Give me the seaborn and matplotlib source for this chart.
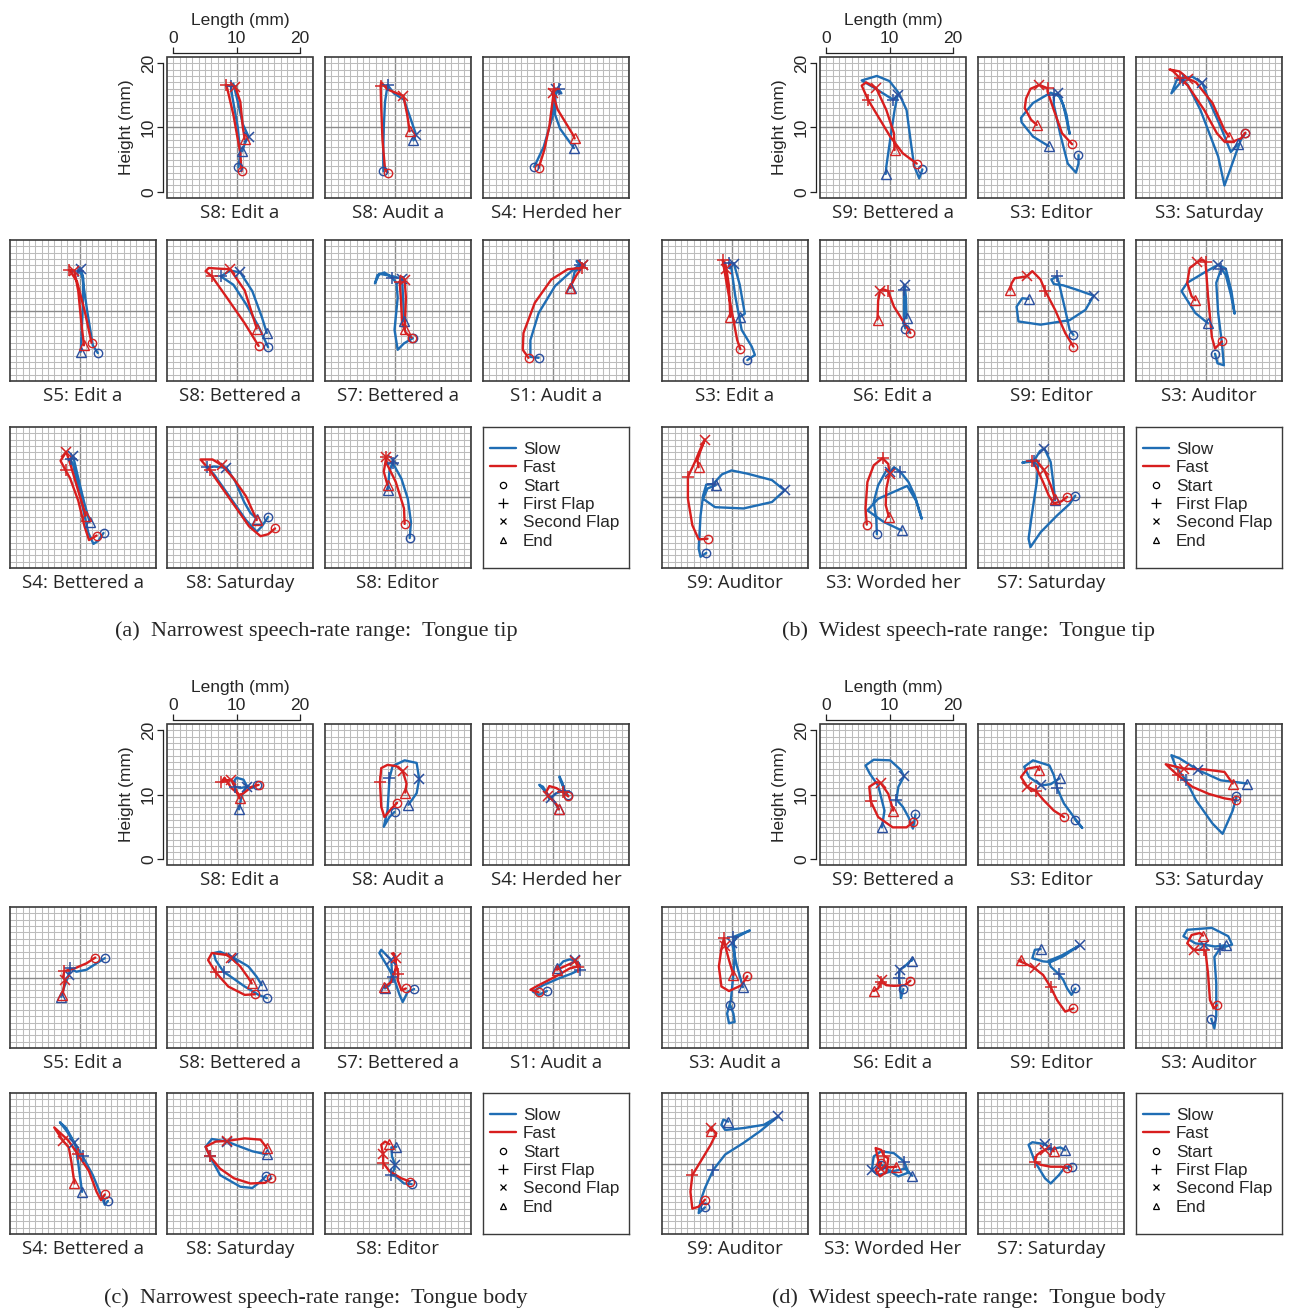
import matplotlib
matplotlib.use("Agg")
import matplotlib.pyplot as plt
import seaborn as sns
import pandas as pd
from matplotlib.lines import Line2D
from matplotlib.patches import Rectangle

# ---- panel (a) narrowest range, tongue tip ----
A_TITLES = ["S8: Edit a", "S8: Audit a", "S4: Herded her", "S5: Edit a", "S8: Bettered a",
            "S7: Bettered a", "S1: Audit a", "S4: Bettered a", "S8: Saturday", "S8: Editor"]
A_SLOW = [
    [(10.3,3.8),(10.6,6),(10.2,10),(9.3,15),(9.1,16.5),(9.5,16.8),(10.2,14),(11,10.5),(11.9,8.6),(11.3,7.5),(10.9,6.3)],
    [(8.25,3.2),(8.2,6),(8.3,10),(8.5,14),(8.9,16.6),(9.9,15.3),(11.5,14.3),(12.5,11.5),(13.4,8.9),(13.0,8.0)],
    [(7.1,3.9),(8.6,7.0),(10.0,11.7),(10.3,14.8),(11.0,15.9),(11.4,15.3),(10.5,15.9),(10.4,12.0),(11.2,9.8),(13.4,6.8)],
    [(12.9,3.4),(12.1,4.6),(11.2,10),(10.4,15.5),(9.8,16.2),(10.2,16.5),(10.6,15),(10.5,10),(10.2,3.6)],
    [(15.0,4.3),(13.5,7.5),(11.5,11),(9.5,14),(7.5,15.3),(9,16.2),(10.6,15.9),(12.5,13),(14,9),(14.8,6.5)],
    [(12.9,5.7),(11.5,4.9),(10.5,3.9),(10.0,7.0),(10.5,12),(10.3,14.3),(9.6,15.1),(8.4,15.9),(7.3,15.5),(6.9,14.2),
     (7.6,15.7),(9.8,15.3),(11.2,14.9),(11.4,11),(11.5,8.3)],
    [(7.8,2.66),(6.5,2.8),(6.5,5.4),(7.8,9.6),(10.4,13.8),(13,16.1),(14.3,17.1),(13.8,17.7),(14.9,17.1),(13.5,16.0),(12.9,13.5)],
    [(13.8,4.5),(13.0,3.3),(12.2,2.8),(11.4,4.5),(10.5,8.5),(9.6,12.5),(9.0,15.0),(8.6,15.9),(9.0,16.4),(9.8,13),(10.8,9),(11.6,6.2)],
    [(15.0,7.0),(14,5.5),(13.2,4.7),(11.5,6.5),(9,10),(6.5,13.5),(5.4,14.7),(6.5,14.8),(8.4,14.6),(9.8,12.5),(11.2,9.3),(12.2,7.6),(13.2,6.7)],
    [(12.4,3.7),(12.6,6.2),(12.1,9.8),(11.1,12.9),(9.7,15.4),(9.8,15.8),(9.2,14.0),(8.9,11.1)],
]
A_FAST = [
    [(10.8,3.2),(10.6,6),(9.5,12),(8.4,16.6),(9.8,16.3),(10.6,14),(11,10),(11.3,8.2)],
    [(8.9,3.0),(8.5,3.5),(8.1,8),(7.9,13),(7.8,16.5),(7.9,17),(8.9,15.9),(11.4,14.9),(12.0,12),(12.4,9.4)],
    [(7.8,3.7),(8.7,6.5),(9.5,10.2),(10.2,15.6),(10.3,16.0),(10.0,15.4),(10.8,12.8),(13.1,9.1),(13.5,8.3)],
    [(11.9,5.0),(10.8,10),(9.6,14.5),(8.4,16.3),(9.2,16.1),(9.8,13),(10.3,8),(10.7,4.6)],
    [(13.5,4.5),(11.3,8.0),(8.4,12.1),(6.1,15.3),(5.1,16.1),(5.6,16.6),(7.1,16.5),(9.0,16.4),(11.3,13.1),(13.2,7.2)],
    [(12.7,5.8),(11.8,6.5),(11.2,8),(11.0,12),(10.8,14.5),(11.3,15.2),(11.6,14.8),(11.8,12),(11.7,9),(11.6,7.2)],
    [(6.2,2.66),(5.3,3.9),(5.4,6.5),(7.2,11.2),(9.8,14.8),(12.4,16.4),(14.6,16.6),(14.9,17.0),(13.8,15.5),(12.7,13.5)],
    [(12.7,4.1),(11.5,3.4),(10.8,5.5),(9.8,9.5),(8.5,13),(7.8,14.2),(7.0,15.7),(7.9,17.1),(8.6,15),(9.8,11),(11.0,7.2)],
    [(16.1,5.2),(15.0,4.3),(13.8,4.0),(12.0,5.5),(9.5,9),(7.0,12.5),(5.8,14.2),(4.3,15.9),(6.2,15.9),(7.7,15.0),(9.5,13),(11.5,10.2),(13.2,6.5)],
    [(11.6,5.9),(11.5,8.3),(10.2,12.4),(8.9,15.0),(8.6,16.3),(8.7,16.3),(8.3,14),(8.9,11.9)],
]
A_SLOW_FLAPS = [(4,8),(4,8),(4,6),(4,5),(4,6),(6,12),(6,8),(7,8),(6,8),(4,5)]
A_FAST_FLAPS = [(3,4),(4,7),(4,5),(3,4),(3,7),(4,6),(6,7),(5,7),(6,9),(4,5)]

# ---- panel (b) widest range, tongue tip ----
B_TITLES = ["S9: Bettered a", "S3: Editor", "S3: Saturday", "S3: Edit a", "S6: Edit a",
            "S9: Editor", "S3: Auditor", "S9: Auditor", "S3: Worded her", "S7: Saturday"]
B_SLOW = [
    [(15.2,3.5),(14.7,2.1),(13.9,4),(13.4,7.5),(12.7,12.7),(11.5,15.3),(10,17.2),(8,18),(5.6,17.3),(7.5,16.2),
     (10.6,14.3),(11.3,15.1),(10.8,12.7),(10.1,8.1),(9.5,4.0),(9.4,2.8)],
    [(14.9,5.7),(14.9,4.4),(14.5,3.0),(13.2,4.4),(12.0,9),(11.0,13.5),(11,15.1),(11.6,15.3),(12.5,13.5),(13.5,9),
     (13.0,12),(12,14.8),(10.5,15.4),(7.7,13.8),(5.8,11.5),(5.9,10.8),(7.7,8.6),(10.2,7.1)],
    [(16.3,9.1),(15.6,8.1),(15,6.5),(13,1.0),(12,5.5),(9.2,12.7),(7.2,16.6),(6.4,17.4),(4.6,15.3),(5.5,17.5),
     (7.9,17.9),(9.5,16.9),(10.5,14.3),(12.4,10.1),(14.0,6.2),(15.1,7.4)],
    [(12.5,2.3),(13.7,3.1),(13.2,4.4),(11.6,7.0),(10.6,12.2),(10,16.4),(9.6,17.4),(10.4,17.2),(11.3,14),(12.1,9.5),(11.3,9.0)],
    [(12.5,7.2),(12.3,8),(12.3,13.2),(12.4,13.9),(12.6,12),(12.7,8.8)],
    [(14.1,6.2),(13.5,7),(12.8,10.1),(11.8,14.3),(11.5,15.3),(10.6,14.8),(11,14.1),(12.5,13.9),(14.7,13.2),(17.3,12.3),
     (16,10.1),(13.5,8.5),(8.9,7.8),(5.4,8.3),(5.1,10.6),(6.0,11.9),(7.0,11.8)],
    [(11.5,3.3),(11.9,1.8),(12.9,1.5),(12.6,4.9),(12.0,9.6),(11.7,14.3),(12.5,16.5),(13.2,15.5),(14.0,12.5),(14.6,9.5),
     (14.1,13),(13.2,16.5),(12.0,17.1),(10,16),(7.1,14.3),(6.2,13.0),(8.4,9.6),(10.4,8.0)],
    [(6.0,1.4),(5.1,0.8),(4.8,2.1),(5.1,7.2),(5.5,10.3),(6.0,12.0),(7.1,12.1),(8.5,13.6),(10,14.2),(12.5,13.7),
     (16.4,12.7),(18.4,11.1),(16.4,9.3),(11.9,8.3),(7.4,8.5),(5.5,9.8),(6.2,11.4),(7.5,11.9)],
    [(8.0,4.3),(7.9,6.7),(7.5,9.3),(8.2,11.9),(9.5,14.2),(10.1,14.0),(10.7,14.7),(11.7,14.0),(13.0,12.4),(14,10.3),
     (15.1,6.7),(14.2,9.5),(12.8,11.8),(10.5,10.8),(8.2,9.8),(6.5,8.0),(9.1,6.2),(11.9,4.9)],
    [(14.4,10.3),(13.5,9.0),(11.5,7.2),(8.9,4.6),(7.3,2.3),(7.0,3.6),(7.5,7.2),(8.3,12.4),(8.5,15.0),(7.5,15.8),
     (6.0,15.4),(7.8,15.6),(8.8,17.2),(9.5,17.6),(10.5,15.5),(10.9,12.4),(11.2,9.6)],
]
B_FAST = [
    [(14.3,4.4),(12.1,6.0),(10.1,8.6),(8.2,11.7),(6.6,14.3),(5.6,16.5),(6.3,17.0),(7.9,16.1),(9.5,12.7),(10.7,9.1),(10.8,6.5)],
    [(13.9,7.4),(12.3,9.1),(11,12.7),(10.0,15.6),(10.0,16.1),(8.7,16.6),(7.3,16),(6.6,14.5),(6.4,13.0),(7.4,11.2),(8.3,10.4)],
    [(16.3,9.2),(15.6,8.3),(14.3,7.8),(13,7.8),(11.8,9.1),(9.8,12.7),(7.2,16.5),(5.9,17.7),(4.8,18.8),(4.3,19.0),
     (5.9,18.7),(7.2,17.6),(8.5,17.0),(11.1,13.8),(13,9.6),(13.7,8.6)],
    [(11.4,4.0),(10.9,5.4),(10.3,8.5),(9.3,13.8),(8.6,17.8),(9.0,17.3),(9.2,16.4),(9.6,13.8),(9.8,9.0)],
    [(13.3,6.5),(12.7,7.5),(10.7,10.6),(9.8,13.0),(9.0,13.3),(8.5,13.1),(8.2,11.5),(8.1,8.6)],
    [(14.1,4.4),(12.8,6.5),(11.2,10.1),(9.6,13.1),(8.9,14.8),(7.6,16.1),(6.7,15.3),(4.8,15.0),(4.3,14.2),(4.1,13.2)],
    [(12.6,5.2),(11.5,4.1),(11,5.9),(10.4,12.2),(10.0,17.5),(9.5,17.9),(8.7,17.5),(7.5,16.6),(7.1,14.3),(7.8,12.2),(8.4,11.6)],
    [(6.2,3.6),(4.8,3.5),(3.8,5.7),(3.1,9.8),(3.1,13.2),(4.2,15.5),(5.1,17.6),(5.8,19.0),(5.0,17.0),(4.6,15.8),(4.8,14.7)],
    [(6.4,5.8),(6.2,8.3),(6.5,12.4),(7.5,15.0),(8.9,16.1),(9.8,15.2),(10.0,13.7),(9.5,11.4),(9.4,8.8),(9.9,7.0)],
    [(13.1,10.1),(12.2,9.4),(11.0,9.1),(10.2,10.3),(9.3,12.4),(8.3,14.5),(7.6,15.6),(8.2,15.8),(9.5,14.2),(10.5,11.9),(11.2,9.8)],
]
B_SLOW_FLAPS = [(10,11),(6,7),(7,11),(6,7),(2,3),(4,9),(6,12),(6,11),(7,5),(11,13)]
B_FAST_FLAPS = [(4,7),(4,5),(7,11),(4,6),(3,5),(3,6),(4,6),(4,7),(4,6),(6,8)]

# ---- panel (c) narrowest range, tongue body ----
C_TITLES = list(A_TITLES)
C_SLOW = [
    [(13.2,11.5),(12.4,11.0),(11.6,11.4),(11.1,12.3),(10.0,12.6),(9.4,11.8),(9.8,11.2),(10.6,11.0),(11.6,11.2),(10.8,9.8),(10.4,7.7)],
    [(10.0,7.3),(9.2,6.5),(8.3,5.0),(8.9,7.6),(9.2,12.5),(9.7,14.4),(11.6,15.3),(13.5,14.9),(13.9,12.4),(13.5,10.2),(12.2,8.4)],
    [(12.4,9.9),(11.9,10.7),(11.2,12.3),(11.1,12.8),(11.6,11.7),(11.8,10.6),(10.6,10.2),(9.5,9.3),(8.5,11.2),(7.9,11.5),
     (9.0,10.3),(9.8,9.4),(10.5,8.5),(11.0,7.7)],
    [(14.0,13.0),(12.7,12.2),(11.1,11.2),(9.5,10.9),(8.5,11.4),(8.3,10.4),(7.6,8.6),(7.1,7.0)],
    [(14.8,6.8),(13.5,7.3),(11.3,8.6),(8.7,10.4),(8.0,10.8),(6.7,12.7),(6.4,13.8),(7.4,14.0),(9.5,13.1),(11.9,11.7),(13.2,10.1),(14.0,8.8)],
    [(13.1,8.2),(12.1,7.8),(11.3,6.2),(10.8,7.3),(10.0,9.6),(9.8,10.1),(8.9,11.7),(7.6,13.8),(7.9,14.3),(9.2,13.0),
     (9.5,12.7),(9.6,10.5),(9.2,8.8),(8.5,8.3)],
    [(9.1,7.9),(7.8,7.3),(6.9,7.8),(8.5,8.8),(11.1,9.9),(13.0,10.6),(14.3,11.2),(14.2,12.2),(13.6,12.7),(12.7,12.8),(11.7,12.5),(10.7,11.4)],
    [(14.5,4.2),(14,3.6),(13.4,5.1),(12.1,8.2),(10.5,11.1),(9.2,13.2),(7.9,15.5),(6.9,16.4),(8.0,15.0),(9.3,13),(9.8,10),(10.4,5.6)],
    [(14.7,8.1),(13.8,7.2),(12.5,6.2),(10.6,6.4),(7.4,8.2),(5.8,11.1),(5.1,12.6),(6.1,13.8),(8.5,13.4),(10.6,12.6),(12.5,11.9),(14.8,11.4)],
    [(12.7,6.8),(11.5,6.9),(10.2,8.0),(9.5,8.2),(9.9,9.0),(10.1,9.8),(9.6,11.1),(9.5,12.5),(10.3,12.6)],
]
C_FAST = [
    [(13.5,11.5),(12.4,11.2),(11.1,10.2),(10.5,9.9),(9.2,11),(8.1,12.6),(7.6,11.9),(8.5,12.2),(9.2,12.3),(10,10.5),(10.5,9.4)],
    [(10.4,8.7),(9.5,7.8),(8.4,6.5),(7.9,8.1),(7.7,11.9),(7.9,14.1),(8.9,14.6),(10.3,14.4),(11.3,13.6),(11.9,11.7),(11.7,10.3)],
    [(12.5,9.7),(11.6,10.4),(10.6,11.0),(9.5,11.3),(9.0,10.4),(9.3,9.8),(10.1,9.1),(10.6,8.5),(11.0,7.7)],
    [(12.5,13.1),(11.1,12.2),(9.2,11.4),(7.6,11.0),(7.4,10.1),(7.7,9.6),(7.3,7.3)],
    [(12.9,7.4),(11.3,7.3),(8.7,8.6),(6.7,10.8),(5.5,12.7),(6.1,13.8),(8.4,13.5),(9.2,13.0),(10.6,11.7),(11.9,9.9),(12.4,9.1)],
    [(11.8,8.3),(11.1,8.0),(10.5,9.6),(10.6,10.6),(10.2,12.2),(9.8,13.8),(10.2,13.0),(10.2,11.5),(9.5,9.3),(8.4,8.5)],
    [(7.8,7.7),(6.5,8.1),(7.8,8.8),(10.4,10.1),(12.7,11.4),(14.0,11.7),(13.6,12.5),(12.5,12),(10.7,11.2)],
    [(14.0,5.2),(13.4,4.3),(12.7,5.6),(11.5,8.8),(9.7,11.5),(8.2,13.6),(6.0,15.6),(7.4,13.5),(8.3,12.5),(8.7,10.3),(9.2,6.9)],
    [(15.5,7.7),(14.5,7.0),(12.2,6.9),(9.6,7.7),(7.4,9.2),(5.8,11.1),(5.1,12.6),(6.7,13.4),(8.5,13.5),(11.3,13.9),(13.8,13.7),(14.8,12.4)],
    [(12.4,7.2),(11.1,7.7),(9.2,8.8),(8.2,10.1),(8.2,11.4),(7.9,12.9),(8.5,13.4),(9.2,13.0)],
]
C_SLOW_FLAPS = [(6,8),(4,8),(5,11),(4,5),(4,8),(5,10),(6,8),(4,5),(5,8),(3,5)]
C_FAST_FLAPS = [(6,8),(4,8),(1,5),(3,5),(3,7),(3,6),(5,6),(4,7),(5,8),(3,4)]

# ---- panel (d) widest range, tongue body ----
D_TITLES = ["S9: Bettered a", "S3: Editor", "S3: Saturday", "S3: Audit a", "S6: Edit a",
            "S9: Editor", "S3: Auditor", "S9: Auditor", "S3: Worded Her", "S7: Saturday"]
D_SLOW = [
    [(14.1,6.9),(13.9,5.7),(13.7,4.7),(13.0,6.5),(12.1,8.1),(11.1,9.2),(11.4,11.2),(12.3,12.8),(11.8,13.8),(10.1,15.3),
     (7.5,15.4),(6.2,14.5),(6.9,13.2),(8.2,11.4),(9.2,7.5),(8.8,4.9)],
    [(14.4,6.1),(15.5,4.8),(14.4,6.2),(12.6,8.6),(11.5,11.0),(11.0,13),(10.3,14.5),(7.7,15.3),(6.3,14.3),(7.1,12.7),
     (9.0,11.4),(10.5,11.6),(11.9,12.5)],
    [(14.9,9.7),(14.3,7.5),(12.7,3.9),(11.1,5.5),(8.5,9.1),(6.9,12.2),(5.3,14.3),(4.6,16.1),(5.9,15.6),(8.8,13.8),
     (12.4,12.2),(15.0,11.9),(16.6,11.7)],
    [(9.8,5.7),(10.3,4.4),(10.5,3.1),(9.6,2.9),(9.3,4.4),(9.9,6.5),(10.3,10.6),(10.5,13.5),(10.3,16.3),(12.9,17.3),
     (10.9,16.3),(10.1,15.3),(10.8,12),(11.8,8.5)],
    [(12.2,8.2),(11.8,6.8),(11.7,8.5),(11.5,9.9),(11.6,11.2),(12.4,11.7),(13.7,13.0),(13.5,12.6)],
    [(14.4,8.3),(13.8,7.3),(13.1,8.3),(12.5,9.6),(11.8,10.5),(10.5,11.7),(10.2,12.6),(12.2,13.4),(15.1,15.0),(12.5,13.3),
     (10.5,12.4),(9.3,12.5),(7.6,13.0),(8.0,14.3),(8.9,14.4)],
    [(10.9,3.6),(11.4,2.1),(11.7,4.1),(11.7,9.1),(11.4,13.2),(12.3,14.5),(14.2,15.1),(13.6,16.4),(11.0,17.7),(7.1,17.4),
     (6.5,16.4),(8.4,15.3),(9.8,15.1),(11.5,14.8),(13.2,15.0)],
    [(5.8,3.2),(4.8,2.3),(5.1,4.2),(5.8,6.2),(7.1,9.0),(9.0,11.4),(11.9,13.2),(14.5,15.0),(17.4,17.3),(15.1,16.0),
     (11.9,15.5),(9.0,15.2),(8.4,16.0),(8.7,16.8),(9.5,16.5)],
    [(8.7,9.8),(9.8,9.0),(11.4,8.0),(13.0,8.6),(12.3,10.3),(10.7,11.6),(8.7,11.9),(7.5,11.1),(7.2,9.0),(8.2,8.2),
     (10,8.7),(12.5,9.2),(13.6,8.1)],
    [(13.8,9.5),(12.8,9.5),(11.8,8.2),(10.5,6.9),(9.6,7.7),(8.0,10.3),(7.0,12.9),(7.6,13.3),(9.6,13.0),(10.5,12.2),
     (12.0,12.5),(12.8,12.1)],
]
D_FAST = [
    [(13.7,5.7),(12.7,4.9),(10.5,4.9),(8.2,6.5),(7.0,9.0),(6.8,11.2),(7.9,11.9),(8.6,11.8),(9.8,10.1),(10.6,7.5)],
    [(12.6,6.5),(11.0,7.5),(9.4,9.1),(8.1,10.6),(6.8,11.2),(5.8,12.7),(6.8,14.0),(8.4,14.3),(8.7,13.8)],
    [(14.9,9.1),(13.0,9.4),(10.5,10.1),(7.9,11.2),(5.6,13.0),(3.7,14.7),(6.6,14.0),(9.8,13.9),(13.0,13.5),(14.3,11.7)],
    [(12.5,10.2),(11.6,8.8),(9.6,7.9),(8.4,8.6),(8.0,11.7),(8.4,14.5),(8.8,16.1),(9.0,14.9),(9.6,12.7),(10.3,10.4)],
    [(13.3,9.5),(12.4,8.8),(10.7,8.7),(9.5,8.8),(8.7,9.3),(8.8,9.6),(8.2,8.3),(7.5,7.9)],
    [(14.1,5.2),(12.8,4.7),(11.5,6.5),(10.5,8.5),(9.3,10.4),(8.0,11.4),(6.4,12.2),(5.4,12.6),(5.8,12.7)],
    [(11.8,5.7),(11.3,5.2),(10.7,6.5),(10.4,10.6),(10.0,14.0),(9.7,14.3),(8.1,14.3),(7.1,15.3),(7.8,16.6),(9.1,16.9),(9.6,16.5)],
    [(5.8,4.4),(4.8,3.3),(3.8,3.0),(3.5,5.6),(3.8,8.2),(5.1,10.3),(6.7,12.9),(7.6,14.7),(6.7,15.5),(6.8,15.1)],
    [(8.7,10.1),(7.8,9.0),(8.5,8.0),(9.5,8.7),(9.8,10.8),(9.1,11.2),(8.7,12.1),(7.8,12.4),(8.2,10.6),(8.6,9.2),(9.6,9.4),(11.1,9.5)],
    [(13.1,9.3),(12.2,9.5),(10.5,9.5),(8.9,9.8),(8.0,10.3),(8.3,11.3),(9.1,11.9),(9.6,12.1),(10.5,12.4),(11.0,11.9)],
]
D_SLOW_FLAPS = [(5,7),(4,10),(5,9),(8,11),(3,4),(4,8),(5,12),(4,8),(4,8),(9,8)]
D_FAST_FLAPS = [(4,7),(3,4),(4,6),(6,7),(4,5),(3,5),(5,6),(4,8),(5,9),(4,7)]

CAPTIONS = ["(a)  Narrowest speech-rate range:  Tongue tip",
            "(b)  Widest speech-rate range:  Tongue tip",
            "(c)  Narrowest speech-rate range:  Tongue body",
            "(d)  Widest speech-rate range:  Tongue body"]
LEGEND_LABELS = ["Slow", "Fast", "Start", "First Flap", "Second Flap", "End"]

# ---- layout (pixels) ----
FIG_W, FIG_H = 1289, 1311
BOX_W, BOX_H = 146, 141
LEFT_COLS = [10, 167, 325, 483]
RIGHT_COLS = [662, 820, 978, 1136]
TOP_ROWS = [57, 240, 427]
BOTTOM_ROWS = [724, 907, 1093]
CELLS = [(0, 1), (0, 2), (0, 3), (1, 0), (1, 1), (1, 2), (1, 3), (2, 0), (2, 1), (2, 2)]
CAPTION_POS = [(316, 631), (968, 631), (316, 1298), (969, 1298)]

SLOW_C = "#1f6db4"
FAST_C = "#d81e1e"
SLOW_MK = "#2b4f9e"
FAST_MK = "#d42424"
XLIM = (-1.0, 22.1)
YLIM = (-0.94, 20.94)

sns.set_theme(style="white")
plt.rcParams["font.family"] = ["Liberation Sans", "DejaVu Sans"]

fig = plt.figure(figsize=(FIG_W / 100, FIG_H / 100), dpi=100)


def px_axes(left, top, w=BOX_W, h=BOX_H):
    return fig.add_axes([left / FIG_W, 1 - (top + h) / FIG_H, w / FIG_W, h / FIG_H])


def draw_grid(ax):
    ax.set_xlim(*XLIM)
    ax.set_ylim(*YLIM)
    for v in range(0, 23):
        ax.axvline(v, color="#8a8a8a" if v == 10 else "#bcbcbc", lw=1.0 if v == 10 else 0.75, zorder=0)
    for v in range(0, 21):
        ax.axhline(v, color="#8a8a8a" if v == 10 else "#bcbcbc", lw=1.0 if v == 10 else 0.75, zorder=0)


def draw_track(ax, path, line_c):
    df = pd.DataFrame(path, columns=["x", "y"])
    sns.lineplot(data=df, x="x", y="y", sort=False, estimator=None, color=line_c, lw=1.7, ax=ax, zorder=3)


def draw_marks(ax, path, flaps, mk_c):
    start, end = path[0], path[-1]
    p1, p2 = path[flaps[0]], path[flaps[1]]
    ax.plot(*start, marker="o", ms=6, mfc="none", mec=mk_c, mew=1.0, zorder=5)
    ax.plot(*p1, marker="+", ms=9, mec=mk_c, mew=1.1, zorder=5)
    ax.plot(*p2, marker="x", ms=7, mec=mk_c, mew=1.1, zorder=5)
    ax.plot(*end, marker="^", ms=7, mfc="none", mec=mk_c, mew=1.0, zorder=5)


def draw_cell(left, top, title, slow, fast, sfl, ffl, with_axes=False):
    ax = px_axes(left, top)
    draw_grid(ax)
    draw_track(ax, slow, SLOW_C)
    draw_track(ax, fast, FAST_C)
    draw_marks(ax, slow, sfl, SLOW_MK)
    draw_marks(ax, fast, ffl, FAST_MK)
    ax.set_xlabel("")
    ax.set_ylabel("")
    if with_axes:
        for s in ("bottom", "right"):
            ax.spines[s].set_visible(False)
        for s in ("top", "left"):
            ax.spines[s].set_position(("outward", 3))
            ax.spines[s].set_bounds(0, 20)
            ax.spines[s].set_color("#222222")
            ax.spines[s].set_linewidth(0.9)
        ax.add_patch(Rectangle((0, 0), 1, 1, transform=ax.transAxes, fill=False,
                               ec="#3a3a3a", lw=1.2, clip_on=False, zorder=6))
        ax.xaxis.tick_top()
        ax.xaxis.set_label_position("top")
        ax.set_xticks([0, 10, 20])
        ax.set_yticks([0, 10, 20])
        ax.tick_params(axis="both", direction="out", length=4, width=0.9, color="#222222",
                       labelsize=12.5, pad=1, top=True, left=True, bottom=False, right=False)
        for t in ax.get_yticklabels():
            t.set_rotation(90)
            t.set_va("center")
        ax.set_xlabel("Length (mm)", fontsize=12.5, labelpad=4)
        ax.set_ylabel("Height (mm)", fontsize=12.5, labelpad=5)
    else:
        ax.set_xticks([])
        ax.set_yticks([])
        for s in ax.spines.values():
            s.set_color("#3a3a3a")
            s.set_linewidth(1.2)
    fig.text((left + BOX_W / 2) / FIG_W, 1 - (top + BOX_H + 15) / FIG_H, title,
             ha="center", va="center", fontsize=13.5, family=["Open Sans", "DejaVu Sans"])


def draw_legend(left, top):
    ax = px_axes(left, top)
    ax.set_xticks([])
    ax.set_yticks([])
    for s in ax.spines.values():
        s.set_color("#3a3a3a")
        s.set_linewidth(1.0)
    handles = [
        Line2D([], [], color=SLOW_C, lw=1.7),
        Line2D([], [], color=FAST_C, lw=1.7),
        Line2D([], [], ls="none", marker="o", ms=4.5, mfc="none", mec="black", mew=0.9),
        Line2D([], [], ls="none", marker="+", ms=6.5, mec="black", mew=0.9),
        Line2D([], [], ls="none", marker="x", ms=5, mec="black", mew=0.9),
        Line2D([], [], ls="none", marker="^", ms=5, mfc="none", mec="black", mew=0.9),
    ]
    ax.legend(handles, LEGEND_LABELS, loc="upper left", bbox_to_anchor=(0.045, 0.895),
              frameon=False, fontsize=12.3, handlelength=1.55, handletextpad=0.4,
              labelspacing=0.2, borderaxespad=0, borderpad=0)


panels = [
    (LEFT_COLS, TOP_ROWS, A_TITLES, A_SLOW, A_FAST, A_SLOW_FLAPS, A_FAST_FLAPS),
    (RIGHT_COLS, TOP_ROWS, B_TITLES, B_SLOW, B_FAST, B_SLOW_FLAPS, B_FAST_FLAPS),
    (LEFT_COLS, BOTTOM_ROWS, C_TITLES, C_SLOW, C_FAST, C_SLOW_FLAPS, C_FAST_FLAPS),
    (RIGHT_COLS, BOTTOM_ROWS, D_TITLES, D_SLOW, D_FAST, D_SLOW_FLAPS, D_FAST_FLAPS),
]

for pi, (cols, rows, titles, slows, fasts, sfls, ffls) in enumerate(panels):
    for k, (r, c) in enumerate(CELLS):
        draw_cell(cols[c], rows[r], titles[k], slows[k], fasts[k], sfls[k], ffls[k], with_axes=(k == 0))
    draw_legend(cols[3], rows[2])
    cx, cy = CAPTION_POS[pi]
    fig.text(cx / FIG_W, 1 - cy / FIG_H, CAPTIONS[pi], ha="center", va="center",
             fontsize=16, family=["Liberation Serif", "DejaVu Serif"])

fig.savefig("out.png", dpi=100)
